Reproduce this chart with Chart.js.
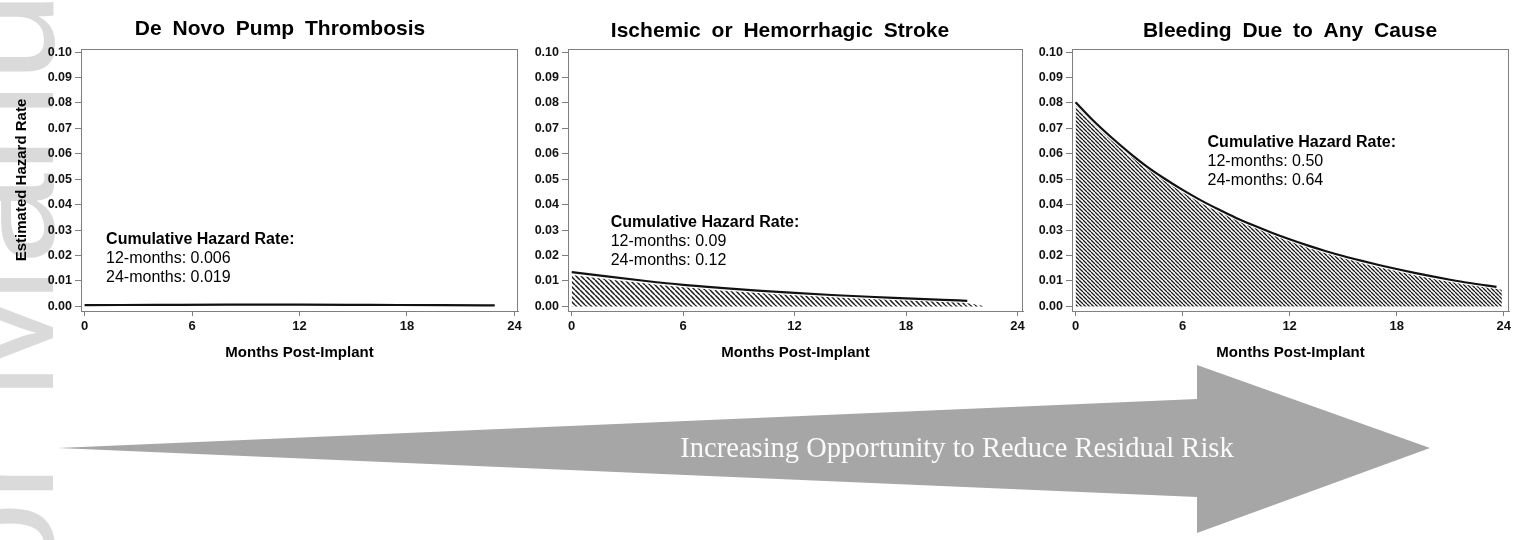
<!DOCTYPE html>
<html>
<head>
<meta charset="utf-8">
<title>Estimated hazard rates after implant</title>
<script src="https://cdn.jsdelivr.net/npm/chart.js@4.4.1/dist/chart.umd.min.js"></script>
<style>
  html, body { margin: 0; padding: 0; background: #fff; }
  #wrap { position: relative; width: 1519px; height: 540px; overflow: hidden; }
  #wrap canvas { position: absolute; top: 0; }
</style>
</head>
<body>
<div id="wrap">
  <canvas id="backdrop" width="1519" height="540" style="left:0px"></canvas>
  <canvas id="chart-thrombosis" width="530" height="380" style="left:0px"></canvas>
  <canvas id="chart-stroke" width="510" height="380" style="left:525px"></canvas>
  <canvas id="chart-bleeding" width="484" height="380" style="left:1035px"></canvas>
</div>
<script>
// Axis ticks
const xTicks = [0, 6, 12, 18, 24];
const yTicks = [0, 0.01, 0.02, 0.03, 0.04, 0.05, 0.06, 0.07, 0.08, 0.09, 0.10];

// Panel titles and cumulative hazard notes
const panelTitles = ['De Novo Pump Thrombosis', 'Ischemic or Hemorrhagic Stroke', 'Bleeding Due to Any Cause'];
const cumulative12 = ['0.006', '0.09', '0.50'];
const cumulative24 = ['0.019', '0.12', '0.64'];

// De novo pump thrombosis hazard curve
const thrombosisMonths = [0, 4, 8, 12, 16, 20, 22.9];
const thrombosisHazard = [0.0005, 0.0006, 0.0007, 0.0007, 0.0006, 0.0005, 0.0004];

// Stroke hazard curve and hatched area
const strokeMonths = [0, 2, 4, 6, 8, 10, 12, 14, 16, 18, 20, 21.3];
const strokeHazard = [0.0135, 0.0117, 0.0100, 0.0085, 0.0073, 0.0062, 0.0053, 0.0045, 0.0038, 0.0032, 0.0026, 0.0022];
const strokeBandMonths = [0, 2, 4, 6, 8, 10, 12, 14, 16, 18, 20, 21.3, 22.2];
const strokeBand = [0.0124, 0.0106, 0.0090, 0.0075, 0.0063, 0.0053, 0.0044, 0.0036, 0.0029, 0.0023, 0.0017, 0.0012, 0.0002];

// Bleeding hazard curve and hatched area
const bleedMonths = [0, 1, 2, 3, 4, 5, 6, 7, 8, 9, 10, 11, 12, 13, 14, 15, 16, 17, 18, 19, 20, 21, 22, 23, 23.6];
const bleedHazard = [0.0803, 0.0730, 0.0665, 0.0605, 0.0550, 0.0502, 0.0458, 0.0418, 0.0382, 0.0348, 0.0318, 0.0290,
  0.0264, 0.0240, 0.0218, 0.0198, 0.0180, 0.0163, 0.0147, 0.0132, 0.0118, 0.0105, 0.0093, 0.0083, 0.0077];
const bleedBandMonths = [0, 1, 2, 3, 4, 5, 6, 7, 8, 9, 10, 11, 12, 13, 14, 15, 16, 17, 18, 19, 20, 21, 22, 23, 23.9];
const bleedBand = [0.0790, 0.0718, 0.0653, 0.0594, 0.0540, 0.0492, 0.0448, 0.0408, 0.0372, 0.0339, 0.0309, 0.0281,
  0.0255, 0.0231, 0.0209, 0.0189, 0.0171, 0.0154, 0.0138, 0.0123, 0.0109, 0.0096, 0.0084, 0.0074, 0.0066];

const FONT = '"Liberation Sans", Arial, sans-serif';
Chart.defaults.font.family = FONT;
Chart.defaults.color = '#111';

function toPoints(xs, ys) {
  return xs.map((x, i) => ({ x: x, y: ys[i] }));
}

// Diagonal hatch fill
function hatch(step, width) {
  const c = document.createElement('canvas');
  c.width = step;
  c.height = step;
  const g = c.getContext('2d');
  g.strokeStyle = '#1a1a1a';
  g.lineWidth = width;
  g.beginPath();
  for (const k of [-step, 0, step]) {
    g.moveTo(k, 0);
    g.lineTo(k + step, step);
  }
  g.stroke();
  return g.createPattern(c, 'repeat');
}

// Box, panel title and cumulative hazard note
const panelDecor = {
  id: 'panelDecor',
  afterDraw(chart, args, o) {
    const { ctx, chartArea: a, scales: { x, y } } = chart;
    ctx.save();
    ctx.strokeStyle = '#7f7f7f';
    ctx.lineWidth = 1;
    ctx.strokeRect(a.left + 0.5, a.top + 0.5, a.right - a.left - 1, a.bottom - a.top);

    ctx.fillStyle = '#000';
    ctx.textAlign = 'center';
    ctx.textBaseline = 'middle';
    ctx.font = 'bold 21px ' + FONT;
    if ('wordSpacing' in ctx) ctx.wordSpacing = '5px';
    ctx.fillText(o.title, o.titleX, o.titleY);
    if ('wordSpacing' in ctx) ctx.wordSpacing = '0px';

    const nx = x.getPixelForValue(o.noteX);
    const ny = y.getPixelForValue(o.noteY);
    ctx.textAlign = 'left';
    ctx.font = 'bold 16px ' + FONT;
    ctx.fillText('Cumulative Hazard Rate:', nx, ny);
    ctx.font = '16px ' + FONT;
    ctx.fillText('12-months: ' + o.m12, nx, ny + 19);
    ctx.fillText('24-months: ' + o.m24, nx, ny + 38);
    ctx.restore();
  }
};

function makePanel(id, cfg) {
  const datasets = [];
  if (cfg.band) {
    datasets.push({
      data: cfg.band,
      backgroundColor: hatch(cfg.hatchStep, cfg.hatchWidth),
      borderWidth: 0,
      fill: 'origin',
      pointRadius: 0,
      cubicInterpolationMode: 'monotone'
    });
  }
  datasets.push({
    data: cfg.line,
    borderColor: '#111',
    borderWidth: 2.2,
    fill: false,
    pointRadius: 0,
    cubicInterpolationMode: 'monotone'
  });

  return new Chart(document.getElementById(id), {
    type: 'line',
    data: { datasets: datasets },
    options: {
      responsive: false,
      animation: false,
      layout: { padding: { left: 0, right: cfg.padRight, top: 49, bottom: 0 } },
      plugins: {
        legend: { display: false },
        tooltip: { enabled: false },
        title: { display: false },
        panelDecor: cfg.decor
      },
      scales: {
        x: {
          type: 'linear',
          min: -0.2,
          max: cfg.xMax,
          afterBuildTicks: s => { s.ticks = xTicks.map(v => ({ value: v })); },
          afterFit: s => { s.height = 69; },
          grid: { drawOnChartArea: false, tickLength: 5, color: '#7f7f7f' },
          border: { color: '#7f7f7f' },
          ticks: { font: { size: 13, weight: 'bold' }, color: '#111', padding: 3, maxRotation: 0, autoSkip: false },
          title: {
            display: true,
            text: 'Months Post-Implant',
            color: '#000',
            font: { size: 15, weight: 'bold' },
            padding: { top: 0, bottom: 18 }
          }
        },
        y: {
          min: -0.0018,
          max: 0.1012,
          afterBuildTicks: s => { s.ticks = yTicks.map(v => ({ value: v })); },
          afterFit: s => { s.width = cfg.yWidth; },
          grid: { drawOnChartArea: false, tickLength: 6, color: '#7f7f7f' },
          border: { color: '#7f7f7f' },
          ticks: {
            font: { size: 12.5, weight: 'bold' },
            color: '#111',
            padding: 3,
            autoSkip: false,
            callback: v => v.toFixed(2)
          },
          title: {
            display: cfg.yTitle,
            text: 'Estimated Hazard Rate',
            color: '#000',
            font: { size: 15, weight: 'bold' },
            padding: { top: 13, bottom: 0 }
          }
        }
      }
    },
    plugins: [panelDecor]
  });
}

// Gray arrow and faded watermark behind the panels
function drawBackdrop() {
  const ctx = document.getElementById('backdrop').getContext('2d');

  ctx.save();
  ctx.translate(53, 930);
  ctx.rotate(-Math.PI / 2);
  ctx.fillStyle = '#dadada';
  ctx.font = '164px ' + FONT;
  ctx.textBaseline = 'alphabetic';
  ctx.fillText('Author Manuscript', 0, 0);
  ctx.restore();

  ctx.fillStyle = '#a6a6a6';
  ctx.beginPath();
  ctx.moveTo(58, 448);
  ctx.lineTo(1197, 399);
  ctx.lineTo(1197, 365);
  ctx.lineTo(1430, 448);
  ctx.lineTo(1197, 533);
  ctx.lineTo(1197, 497);
  ctx.closePath();
  ctx.fill();

  ctx.fillStyle = '#fafafa';
  ctx.font = '28.5px "Liberation Serif", "Times New Roman", serif';
  ctx.textAlign = 'center';
  ctx.textBaseline = 'middle';
  ctx.fillText('Increasing Opportunity to Reduce Residual Risk', 957, 450);
}

function init() {
  drawBackdrop();

  makePanel('chart-thrombosis', {
    line: toPoints(thrombosisMonths, thrombosisHazard),
    padRight: 12, yWidth: 81, xMax: 24.2, yTitle: true,
    decor: { title: panelTitles[0], titleX: 280, titleY: 29, noteX: 1.2, noteY: 0.0262, m12: cumulative12[0], m24: cumulative24[0] }
  });

  makePanel('chart-stroke', {
    line: toPoints(strokeMonths, strokeHazard),
    band: toPoints(strokeBandMonths, strokeBand),
    hatchStep: 5, hatchWidth: 1.5,
    padRight: 12, yWidth: 43, xMax: 24.3, yTitle: false,
    decor: { title: panelTitles[1], titleX: 255, titleY: 31, noteX: 2.1, noteY: 0.0331, m12: cumulative12[1], m24: cumulative24[1] }
  });

  makePanel('chart-bleeding', {
    line: toPoints(bleedMonths, bleedHazard),
    band: toPoints(bleedBandMonths, bleedBand),
    hatchStep: 4, hatchWidth: 1.3,
    padRight: 10, yWidth: 37, xMax: 24.3, yTitle: false,
    decor: { title: panelTitles[2], titleX: 255, titleY: 31, noteX: 7.4, noteY: 0.0643, m12: cumulative12[2], m24: cumulative24[2] }
  });
}

init();
</script>
</body>
</html>
